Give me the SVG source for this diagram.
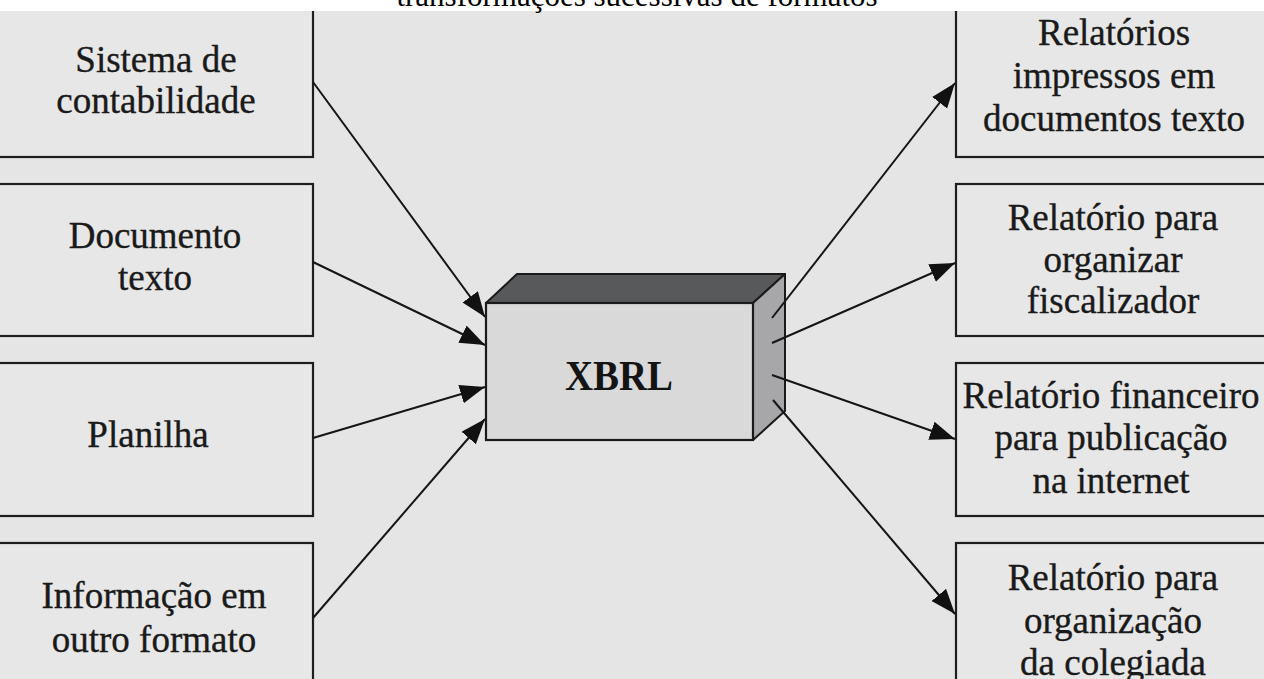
<svg xmlns="http://www.w3.org/2000/svg" width="1264" height="679" viewBox="0 0 1264 679">
<style>
.bg{fill:#e5e5e5}
.box{fill:#e7e7e7;stroke:#1e1e1e;stroke-width:2.2}
.lbl{font-family:"Liberation Serif","Times New Roman",serif;font-size:37px;fill:#1a1a1a;stroke:#1a1a1a;stroke-width:0.35;text-anchor:middle}
.cap{font-family:"Liberation Serif","Times New Roman",serif;font-size:31px;fill:#000;text-anchor:middle}
.conn{stroke:#151515;stroke-width:2;fill:none;marker-end:url(#ah)}
</style>
<defs>
<marker id="ah" markerUnits="userSpaceOnUse" markerWidth="26" markerHeight="20" refX="25" refY="9.5" orient="auto">
<path d="M0,0 L25,9.5 L0,19 Z" fill="#111"/>
</marker>
</defs>
<rect class="bg" x="0" y="0" width="1264" height="679"/>

<g id="sistema">
<rect class="box" x="-10" y="4" width="323" height="153"/>
<text class="lbl" x="156" y="72">Sistema de</text>
<text class="lbl" x="156" y="113">contabilidade</text>
</g>
<g id="documento">
<rect class="box" x="-10" y="184" width="323" height="152"/>
<text class="lbl" x="155" y="248">Documento</text>
<text class="lbl" x="155" y="290">texto</text>
</g>
<g id="planilha">
<rect class="box" x="-10" y="363" width="323" height="153"/>
<text class="lbl" x="148" y="447">Planilha</text>
</g>
<g id="informacao">
<rect class="box" x="-10" y="543" width="323" height="150"/>
<text class="lbl" x="154" y="608">Informação em</text>
<text class="lbl" x="154" y="652">outro formato</text>
</g>

<g id="relatorios-impressos">
<rect class="box" x="956" y="4" width="320" height="153"/>
<text class="lbl" x="1114" y="45">Relatórios</text>
<text class="lbl" x="1114" y="88">impressos em</text>
<text class="lbl" x="1114" y="131">documentos texto</text>
</g>
<g id="relatorio-fiscalizador">
<rect class="box" x="956" y="184" width="320" height="152"/>
<text class="lbl" x="1113" y="230">Relatório para</text>
<text class="lbl" x="1113" y="272">organizar</text>
<text class="lbl" x="1113" y="313">fiscalizador</text>
</g>
<g id="relatorio-financeiro">
<rect class="box" x="956" y="363" width="320" height="153"/>
<text class="lbl" x="1111" y="408">Relatório financeiro</text>
<text class="lbl" x="1111" y="450">para publicação</text>
<text class="lbl" x="1111" y="493">na internet</text>
</g>
<g id="relatorio-colegiada">
<rect class="box" x="956" y="543" width="320" height="150"/>
<text class="lbl" x="1113" y="590">Relatório para</text>
<text class="lbl" x="1113" y="633">organização</text>
<text class="lbl" x="1113" y="675">da colegiada</text>
</g>

<g id="xbrl">
<polygon points="486,303 517,274 785,274 753,303" fill="#58595b" stroke="#1a1a1a" stroke-width="2" stroke-linejoin="round"/>
<polygon points="753,303 785,274 785,411 753,440" fill="#a7a7a9" stroke="#1a1a1a" stroke-width="2" stroke-linejoin="round"/>
<rect x="486" y="303" width="267" height="137" fill="#d9d9d9" stroke="#1a1a1a" stroke-width="2.2"/>
<text x="619" y="390" font-family="'Liberation Serif','Times New Roman',serif" font-weight="bold" font-size="43" fill="#141414" text-anchor="middle" textLength="108" lengthAdjust="spacingAndGlyphs">XBRL</text>
</g>

<g id="connectors">
<line class="conn" x1="313" y1="82" x2="485" y2="317"/>
<line class="conn" x1="313" y1="262" x2="485" y2="345"/>
<line class="conn" x1="313" y1="438" x2="485" y2="387"/>
<line class="conn" x1="313" y1="618" x2="485" y2="419"/>
<line class="conn" x1="772" y1="318" x2="955" y2="83"/>
<line class="conn" x1="772" y1="343" x2="955" y2="263"/>
<line class="conn" x1="772" y1="375" x2="955" y2="439"/>
<line class="conn" x1="773" y1="400" x2="955" y2="614"/>
</g>

<rect x="0" y="0" width="1264" height="11" fill="#ffffff"/>
<text class="cap" x="637" y="6">transformações sucessivas de formatos</text>
</svg>
